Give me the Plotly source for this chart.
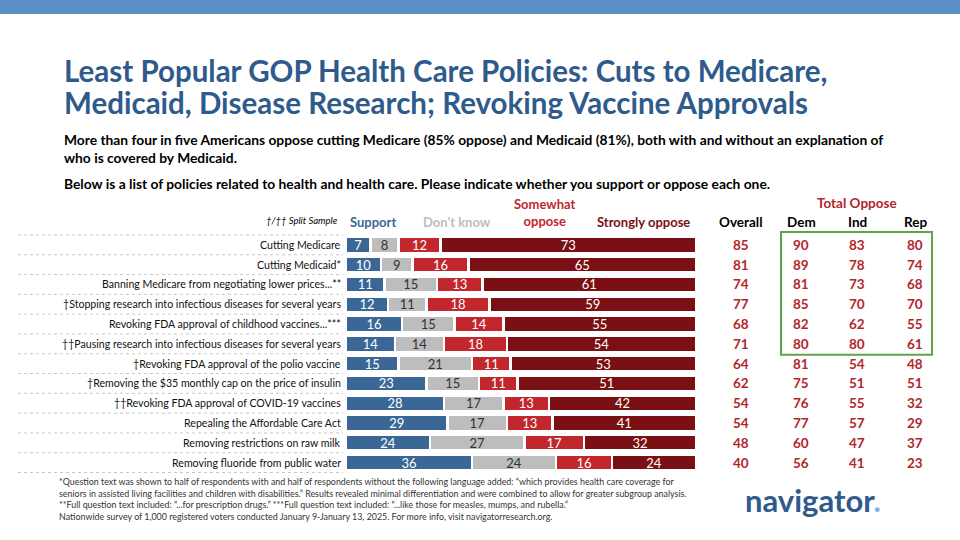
import plotly.graph_objects as go

policies = ["Cutting Medicare", "Cutting Medicaid*", "Banning Medicare from negotiating lower prices...**",
            "†Stopping research into infectious diseases for several years", "Revoking FDA approval of childhood vaccines...***",
            "††Pausing research into infectious diseases for several years", "†Revoking FDA approval of the polio vaccine",
            "†Removing the $35 monthly cap on the price of insulin", "††Revoking FDA approval of COVID-19 vaccines",
            "Repealing the Affordable Care Act", "Removing restrictions on raw milk", "Removing fluoride from public water"]
support = [7, 10, 11, 12, 16, 14, 15, 23, 28, 29, 24, 36]
dontknow = [8, 9, 15, 11, 15, 14, 21, 15, 17, 17, 27, 24]
somewhat = [12, 16, 13, 18, 14, 18, 11, 11, 13, 13, 17, 16]
strongly = [73, 65, 61, 59, 55, 54, 53, 51, 42, 41, 32, 24]
overall = [85, 81, 74, 77, 68, 71, 64, 62, 54, 54, 48, 40]
dem = [90, 89, 81, 85, 82, 80, 81, 75, 76, 77, 60, 56]
ind = [83, 78, 73, 70, 62, 80, 54, 51, 55, 57, 47, 41]
rep = [80, 74, 68, 70, 55, 61, 48, 51, 32, 29, 37, 23]

FONT = "Lato"
BLUE, GRAY, RED, DRED = "#3B6796", "#BDBDBD", "#C1272D", "#7A1014"
TITLE = "#2E5B8C"

fig = go.Figure()
for vals, col, tc in [(support, BLUE, "white"), (dontknow, GRAY, "#333"), (somewhat, RED, "white"), (strongly, DRED, "white")]:
    fig.add_trace(go.Bar(y=policies, x=vals, orientation="h", marker=dict(color=col, line=dict(color="white", width=2.5)),
                         text=vals, textposition="inside", insidetextanchor="middle", textangle=0,
                         textfont=dict(color=tc, size=13, family=FONT), showlegend=False, hoverinfo="skip"))

T, B = 231, 473
fig.update_layout(
    width=960, height=540, margin=dict(l=0, r=0, t=0, b=0), plot_bgcolor="white", paper_bgcolor="white",
    barmode="stack", bargap=0.2, uniformtext=dict(minsize=11, mode="show"),
    xaxis=dict(domain=[346/960, 696/960], range=[0, 100], visible=False),
    yaxis=dict(domain=[1-B/540, 1-T/540], autorange="reversed", showticklabels=False, showgrid=False, zeroline=False),
    font=dict(family=FONT),
)

ann = []
def A(x, y, text, size=12, color="black", xanchor="center", yanchor="middle", xref="paper", yref="paper", **kw):
    ann.append(dict(x=x, y=y, text=text, xref=xref, yref=yref, showarrow=False, xanchor=xanchor, yanchor=yanchor,
                    font=dict(family=FONT, size=size, color=color), **kw))

for i, p in enumerate(policies):
    A(343/960, p, p, size=10.6, xanchor="right", yref="y", color="#111")
    for x, arr in [(741, overall), (801, dem), (857, ind), (915, rep)]:
        A(x/960, p, f"<b>{arr[i]}</b>", size=13.5, color="#B3262B", yref="y")
    fig.add_shape(type="line", xref="paper", yref="y", x0=18/960, x1=343/960, y0=i+0.5, y1=i+0.5,
                  line=dict(color="#C8C8C8", width=1, dash="dot"))
fig.add_shape(type="line", xref="paper", yref="y", x0=18/960, x1=343/960, y0=-0.5, y1=-0.5,
              line=dict(color="#C8C8C8", width=1, dash="dot"))
fig.add_shape(type="rect", xref="paper", yref="y", x0=781/960, x1=932/960, y0=-0.65, y1=5.55,
              line=dict(color="#5DA34A", width=2))
fig.add_shape(type="rect", xref="paper", yref="paper", x0=0, x1=1, y0=1-14/540, y1=1,
              line=dict(width=0), fillcolor="#5B8FC7")

A(62/960, 1-70/540, "<b>Least Popular GOP Health Care Policies: Cuts to Medicare,</b>", size=29.5, color=TITLE, xanchor="left")
A(62/960, 1-102/540, "<b>Medicaid, Disease Research; Revoking Vaccine Approvals</b>", size=29.5, color=TITLE, xanchor="left")
A(62/960, 1-148/540, "<b>More than four in five Americans oppose cutting Medicare (85% oppose) and Medicaid (81%), both with and without an explanation of<br>who is covered by Medicaid.</b>",
  size=13.8, xanchor="left", align="left")
A(62/960, 1-183/540, "<b>Below is a list of policies related to health and health care. Please indicate whether you support or oppose each one.</b>",
  size=13.8, xanchor="left")
A(340/960, 1-220/540, "<i>†/†† Split Sample</i>", size=9.5, xanchor="right")
A(373/960, 1-222/540, "<b>Support</b>", size=13, color=BLUE)
A(457/960, 1-222/540, "<b>Don't know</b>", size=13, color=GRAY)
A(545/960, 1-213/540, "<b>Somewhat<br>oppose</b>", size=13, color=RED)
A(643/960, 1-222/540, "<b>Strongly oppose</b>", size=13, color=DRED)
A(741/960, 1-222/540, "<b>Overall</b>", size=13.5)
A(857/960, 1-203/540, "<b>Total Oppose</b>", size=13.5, color="#B3262B")
for x, t in [(801, "Dem"), (857, "Ind"), (915, "Rep")]:
    A(x/960, 1-222/540, f"<b>{t}</b>", size=13.5)
A(57/960, 1-499/540, "*Question text was shown to half of respondents with and half of respondents without the following language added: “which provides health care coverage for<br>"
  "seniors in assisted living facilities and children with disabilities.” Results revealed minimal differentiation and were combined to allow for greater subgroup analysis.<br>"
  "**Full question text included: “...for prescription drugs.” ***Full question text included: “...like those for measles, mumps, and rubella.”<br>"
  "Nationwide survey of 1,000 registered voters conducted January 9-January 13, 2025. For more info, visit navigatorresearch.org.",
  size=8.9, color="#333", xanchor="left", align="left")
A(813/960, 1-500/540, "<b>navigator<span style='color:#7FB2E0'>.</span></b>", size=31, color="#2E5B8C")
fig.update_layout(annotations=ann)
fig.write_html("out.html", config={"displayModeBar": False}, post_script="document.body.style.margin='0';")
